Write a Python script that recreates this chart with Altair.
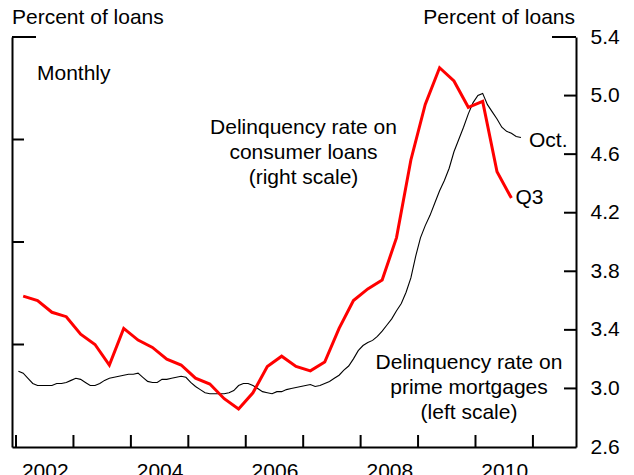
import altair as alt
import pandas as pd

FONT = "Liberation Sans"
FS = 21

# Consumer loan delinquency rate, quarterly 2002Q1-2010Q3 (right scale, percent)
consumer_quarters = [f"{y}Q{q}" for y in range(2002, 2011) for q in range(1, 5)][:35]
consumer_rate = [3.63, 3.60, 3.52, 3.49, 3.37, 3.30, 3.16, 3.41, 3.33, 3.28,
                 3.20, 3.16, 3.07, 3.03, 2.93, 2.86, 2.97, 3.15, 3.22, 3.15,
                 3.12, 3.18, 3.41, 3.60, 3.68, 3.74, 4.03, 4.56, 4.94, 5.19,
                 5.10, 4.92, 4.96, 4.48, 4.30]

# Prime mortgage delinquency rate, monthly Jan 2002 - Oct 2010 (left scale, units of left ticks)
mortgage_months = [f"{y}-{m:02d}" for y in range(2002, 2011) for m in range(1, 13)][:106]
mortgage_rate = [0.74, 0.72, 0.67, 0.62, 0.60, 0.60, 0.60, 0.60, 0.62, 0.62,
                 0.63, 0.65, 0.67, 0.66, 0.63, 0.60, 0.60, 0.62, 0.65, 0.67,
                 0.68, 0.69, 0.70, 0.71, 0.71, 0.72, 0.68, 0.64, 0.63, 0.63,
                 0.66, 0.66, 0.67, 0.68, 0.69, 0.68, 0.63, 0.59, 0.56, 0.53,
                 0.52, 0.52, 0.52, 0.52, 0.53, 0.55, 0.60, 0.62, 0.62, 0.60,
                 0.57, 0.54, 0.53, 0.52, 0.54, 0.54, 0.56, 0.57, 0.58, 0.59,
                 0.60, 0.61, 0.59, 0.60, 0.62, 0.64, 0.67, 0.70, 0.75, 0.79,
                 0.86, 0.94, 0.99, 1.02, 1.04, 1.08, 1.13, 1.19, 1.25, 1.33,
                 1.40, 1.51, 1.65, 1.86, 2.04, 2.16, 2.26, 2.38, 2.50, 2.60,
                 2.72, 2.88, 3.00, 3.12, 3.25, 3.36, 3.43, 3.45, 3.34, 3.27,
                 3.20, 3.12, 3.08, 3.06, 3.03, 3.02]

year_ticks = list(range(2002, 2012))
year_labels = [2002, 2004, 2006, 2008, 2010]
right_ticks = [2.6, 3.0, 3.4, 3.8, 4.2, 4.6, 5.0, 5.4]
left_ticks = [0, 1, 2, 3, 4]

cons_df = pd.DataFrame({
    "t": [int(s[:4]) + (int(s[-1]) - 0.5) / 4 for s in consumer_quarters],
    "v": consumer_rate,
})
mort_df = pd.DataFrame({
    "t": [int(s[:4]) + (int(s[5:]) - 0.5) / 12 for s in mortgage_months],
    "v": mortgage_rate,
})

W, H = 564, 410
xscale = alt.Scale(domain=[2001.93, 2011.75], nice=False, zero=False)
xaxis = alt.Axis(values=[y + 0.5 for y in year_labels], labelExpr="toString(floor(datum.value))",
                 ticks=False, grid=False, title=None, domainColor="black", domainWidth=2,
                 labelFont=FONT, labelFontSize=FS, labelColor="black", labelPadding=13)
X = alt.X("t:Q", scale=xscale, axis=xaxis)

lscale = alt.Scale(domain=[0, 4], nice=False, zero=False)
laxis = alt.Axis(orient="left", labels=False, ticks=False, grid=False, title=None,
                 domainColor="black", domainWidth=2)
rscale = alt.Scale(domain=[2.6, 5.4], nice=False, zero=False)
raxis = alt.Axis(orient="right", values=right_ticks, format=".1f", ticks=False, grid=False,
                 title=None, domainColor="black", domainWidth=2, labelFont=FONT,
                 labelFontSize=FS, labelColor="black", labelPadding=14)

# Mortgage group (left scale)
mort_line = alt.Chart(mort_df).mark_line(color="black", strokeWidth=1.1).encode(
    x=X, y=alt.Y("v:Q", scale=lscale, axis=laxis))
lt_df = pd.DataFrame({"v": left_ticks[1:-1]})
left_tick_marks = alt.Chart(lt_df).mark_rule(color="black", strokeWidth=2).encode(
    y=alt.Y("v:Q", scale=lscale, axis=laxis), x=alt.value(0), x2=alt.value(12))
ltop_df = pd.DataFrame({"v": left_ticks[-1:]})
left_top_tick = alt.Chart(ltop_df).mark_rule(color="black", strokeWidth=2).encode(
    y=alt.Y("v:Q", scale=lscale, axis=laxis), x=alt.value(0), x2=alt.value(24))
oct_df = pd.DataFrame({"t": [mort_df.t.iloc[-1]], "v": [mort_df.v.iloc[-1]], "label": ["Oct."]})
oct_text = alt.Chart(oct_df).mark_text(align="left", baseline="middle", dx=8, dy=4,
                                       font=FONT, fontSize=FS, color="black").encode(
    x=X, y=alt.Y("v:Q", scale=lscale, axis=laxis), text="label:N")
mort_group = alt.layer(mort_line, left_tick_marks, left_top_tick, oct_text)

# Consumer group (right scale)
cons_line = alt.Chart(cons_df).mark_line(color="#FF0000", strokeWidth=3).encode(
    x=X, y=alt.Y("v:Q", scale=rscale, axis=raxis))
rt_df = pd.DataFrame({"v": right_ticks[1:-1]})
right_tick_marks = alt.Chart(rt_df).mark_rule(color="black", strokeWidth=2).encode(
    y=alt.Y("v:Q", scale=rscale, axis=raxis), x=alt.value(W - 12), x2=alt.value(W))
rtop_df = pd.DataFrame({"v": right_ticks[-1:]})
right_top_tick = alt.Chart(rtop_df).mark_rule(color="black", strokeWidth=2).encode(
    y=alt.Y("v:Q", scale=rscale, axis=raxis), x=alt.value(W - 24), x2=alt.value(W))
q3_df = pd.DataFrame({"t": [cons_df.t.iloc[-1]], "v": [cons_df.v.iloc[-1]], "label": ["Q3"]})
q3_text = alt.Chart(q3_df).mark_text(align="left", baseline="middle", dx=4, dy=0,
                                     font=FONT, fontSize=FS, color="black").encode(
    x=X, y=alt.Y("v:Q", scale=rscale, axis=raxis), text="label:N")
cons_group = alt.layer(cons_line, right_tick_marks, right_top_tick, q3_text)

# Bottom ticks at year starts
yt_df = pd.DataFrame({"t": year_ticks})
bottom_ticks = alt.Chart(yt_df).mark_rule(color="black", strokeWidth=2).encode(
    x=X, y=alt.value(H - 12), y2=alt.value(H))

# Annotations
def txt(s, x, y, align="left", baseline="alphabetic"):
    return alt.Chart(pd.DataFrame({"s": [s]})).mark_text(
        align=align, baseline=baseline, font=FONT, fontSize=FS, color="black",
        lineBreak="\n", lineHeight=25).encode(
        text="s:N", x=alt.value(x), y=alt.value(y))

annotations = [
    txt("Percent of loans", 0, -13.5, "left"),
    txt("Percent of loans", W - 1, -13.5, "right"),
    txt("Monthly", 25, 43, "left"),
    txt("Delinquency rate on\nconsumer loans\n(right scale)", 291.5, 79.5, "center", "top"),
    txt("Delinquency rate on\nprime mortgages\n(left scale)", 457, 314.5, "center", "top"),
]

chart = alt.layer(mort_group, cons_group, bottom_ticks, *annotations).resolve_scale(
    y="independent").properties(
    width=W, height=H,
    padding={"left": 4, "top": 29, "right": 48, "bottom": 30},
    autosize=alt.AutoSizeParams(type="none"),
    background="white",
).configure_view(stroke=None)

chart.save("out.html", embed_options={"renderer": "svg", "actions": False})
